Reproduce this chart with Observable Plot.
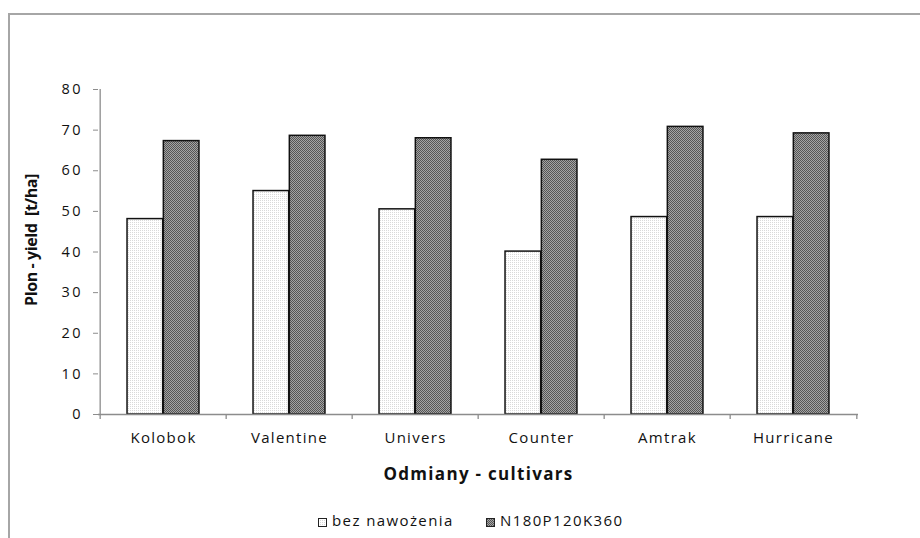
<!DOCTYPE html>
<html>
<head>
<meta charset="utf-8">
<script src="https://cdn.jsdelivr.net/npm/d3@7"></script>
<script src="https://cdn.jsdelivr.net/npm/@observablehq/plot@0.6"></script>
<style>
  html, body { margin: 0; padding: 0; background: #fff; }
  #wrap { position: relative; width: 920px; height: 538px; overflow: hidden; font-family: "Open Sans", sans-serif; }
  #bTop { position: absolute; left: 8px; top: 13px; width: 920px; height: 2px; background: #a6a6a6; }
  #bLeft { position: absolute; left: 8px; top: 13px; width: 2px; height: 540px; background: #a6a6a6; }
  #chart { position: absolute; left: 0; top: 0; }
  #legend { position: absolute; top: 510px; left: 0; width: 920px; height: 20px; font-size: 15px; letter-spacing: 1.4px; color: #111; }
  .item { position: absolute; top: 0; white-space: nowrap; }
</style>
</head>
<body>
<div id="wrap">
  <div id="bTop"></div>
  <div id="bLeft"></div>
  <div id="chart"></div>
  <div id="legend"></div>
</div>
<script>
const cultivars = ["Kolobok", "Valentine", "Univers", "Counter", "Amtrak", "Hurricane"];
const noFert = [48.1, 55.0, 50.5, 40.1, 48.6, 48.6];
const fert = [67.3, 68.6, 68.0, 62.7, 70.8, 69.2];
const seriesNames = ["bez nawożenia", "N180P120K360"];
const yTicks = [0, 10, 20, 30, 40, 50, 60, 70, 80];
const yLabel = "Plon - yield  [t/ha]";
const xLabel = "Odmiany - cultivars";

const W = 920, H = 500, mL = 98, mR = 62, mT = 89, mB = 86;
const step = (W - mL - mR) / cultivars.length;
const barW = 36.3;
const outer = (step - 2 * barW) / 2;

const lightData = cultivars.map((c, i) => ({cultivar: c, value: noFert[i]}));
const darkData = cultivars.map((c, i) => ({cultivar: c, value: fert[i]}));
const axisGray = "#8c8c8c";

const plot = Plot.plot({
  width: W, height: H,
  marginLeft: mL, marginRight: mR, marginTop: mT, marginBottom: mB,
  style: {fontFamily: "'Open Sans', sans-serif", fontSize: "15px", color: "#111", background: "transparent"},
  x: {domain: cultivars, padding: 0, label: null},
  y: {domain: [0, 80], label: null},
  marks: [
    Plot.barY(lightData, {x: "cultivar", y: "value", fill: "url(#pLight)", stroke: "#111", strokeWidth: 1.5,
      insetLeft: outer, insetRight: step - outer - barW}),
    Plot.barY(darkData, {x: "cultivar", y: "value", fill: "url(#pDark)", stroke: "#111", strokeWidth: 1.5,
      insetLeft: outer + barW, insetRight: outer}),
    Plot.ruleY([0], {stroke: axisGray, strokeWidth: 1.3}),
    Plot.ruleX([cultivars[0]], {dx: -step / 2, y1: 0, y2: 80, stroke: axisGray, strokeWidth: 1.3}),
    Plot.ruleX(cultivars, {dx: -step / 2, y1: 0, y2: 0, insetBottom: -5, stroke: axisGray, strokeWidth: 1.3}),
    Plot.ruleX([cultivars[cultivars.length - 1]], {dx: step / 2, y1: 0, y2: 0, insetBottom: -5, stroke: axisGray, strokeWidth: 1.3}),
    Plot.axisY({ticks: yTicks, tickSize: 5, tickPadding: 10.5, stroke: axisGray, label: null, fontSize: 14.5}),
    Plot.axisX({tickSize: 0, tickPadding: 18, label: null, fontSize: 15}),
    Plot.text([xLabel], {frameAnchor: "bottom", dy: 65, fontWeight: "bold", fontSize: 17, fill: "#111"}),
    Plot.text([yLabel], {frameAnchor: "left", textAnchor: "middle", dx: -67, dy: -12, rotate: -90, fontWeight: "bold", fontSize: 16, fill: "#111"})
  ]
});

// patterns
const svg = d3.select(plot);
const defs = svg.insert("defs", ":first-child");
const pl = defs.append("pattern").attr("id", "pLight").attr("patternUnits", "userSpaceOnUse").attr("width", 2).attr("height", 2);
pl.append("rect").attr("width", 2).attr("height", 2).attr("fill", "#ffffff");
pl.append("rect").attr("width", 1).attr("height", 1).attr("fill", "#d9d9d9");
const pd = defs.append("pattern").attr("id", "pDark").attr("patternUnits", "userSpaceOnUse").attr("width", 2).attr("height", 2);
pd.append("rect").attr("width", 2).attr("height", 2).attr("fill", "#a4a4a4");
pd.append("rect").attr("width", 1).attr("height", 1).attr("fill", "#555555");
pd.append("rect").attr("x", 1).attr("y", 1).attr("width", 1).attr("height", 1).attr("fill", "#555555");

svg.selectAll("g[aria-label='x-axis tick label']").style("letter-spacing", "1.3px");
svg.selectAll("g[aria-label='y-axis tick label']").style("letter-spacing", "2.5px");
const textGroups = svg.selectAll("g[aria-label='text']");
textGroups.filter((d, i) => i === 0).style("letter-spacing", "1.3px");
textGroups.filter((d, i) => i === 1).style("letter-spacing", "-0.4px");

document.getElementById("chart").appendChild(plot);

// legend
const legend = document.getElementById("legend");
const legendX = [318, 486];
const legendFill = ["url(#pLight)", "url(#pDark)"];
seriesNames.forEach((name, i) => {
  const item = document.createElement("div");
  item.className = "item";
  item.style.left = legendX[i] + "px";
  const sw = document.createElementNS("http://www.w3.org/2000/svg", "svg");
  sw.setAttribute("width", 9); sw.setAttribute("height", 9);
  sw.style.marginRight = "5px";
  sw.style.verticalAlign = "-0.5px";
  const r = document.createElementNS("http://www.w3.org/2000/svg", "rect");
  r.setAttribute("x", 0.5); r.setAttribute("y", 0.5); r.setAttribute("width", 8); r.setAttribute("height", 8);
  r.setAttribute("fill", legendFill[i]); r.setAttribute("stroke", "#222"); r.setAttribute("stroke-width", 1);
  sw.appendChild(r);
  item.appendChild(sw);
  item.appendChild(document.createTextNode(name));
  legend.appendChild(item);
});
</script>
</body>
</html>
